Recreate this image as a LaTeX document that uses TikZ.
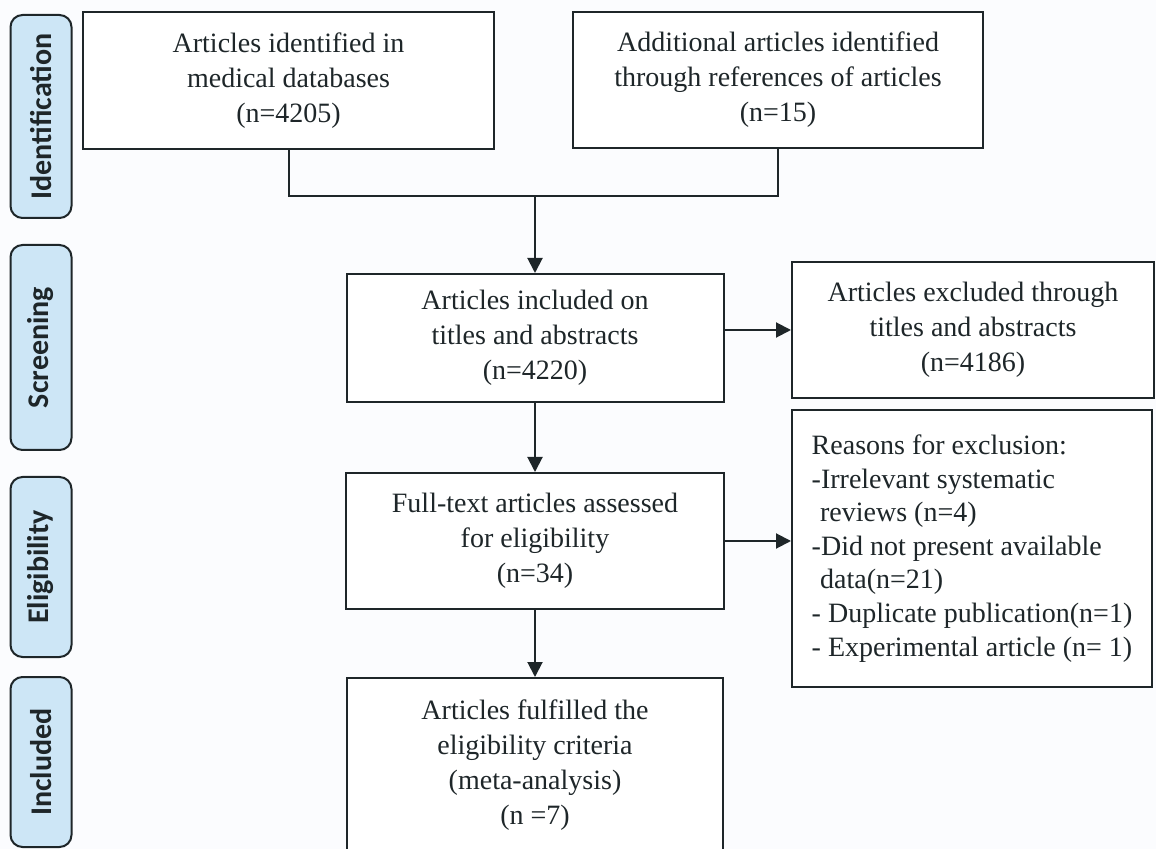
\documentclass[tikz,border=0pt]{standalone}
\usepackage{fontspec}
\setmainfont{Liberation Serif}
\newfontfamily\tagfont{Carlito}
\usepackage{xcolor}
\usepackage{tikz}
\usetikzlibrary{arrows.meta,positioning,calc}
\definecolor{paper}{HTML}{FBFCFE}
\definecolor{ink}{HTML}{1E2629}
\definecolor{tagblue}{HTML}{CDE6F6}

\begin{document}
\begin{tikzpicture}[x=0.5pt, y=-0.5pt,
  stagebox/.style={draw=ink, line width=1pt, fill=white, align=center, inner sep=4pt, font=\fontsize{14}{17.5}\selectfont},
  notebox/.style={draw=ink, line width=1pt, fill=white, align=left, inner sep=4pt, font=\fontsize{14}{16.8}\selectfont},
  phase/.style={draw=ink, line width=1pt, rounded corners=6pt, fill=tagblue, rotate=90, minimum height=30.5pt, inner sep=2pt, font=\tagfont\bfseries\fontsize{15}{18}\selectfont},
  flow/.style={draw=ink, line width=1pt},
  every path/.style={color=ink}
]
  \useasboundingbox[fill=paper] (0,0) rectangle (1156,849);

  \node[phase, minimum width=101.5pt] (tid) at (41,116.5) {Identification};
  \node[phase, minimum width=102.5pt] (tsc) at (41,347.5) {Screening};
  \node[phase, minimum width=90pt] (tel) at (41,567) {Eligibility};
  \node[phase, minimum width=85pt] (tin) at (41,762) {Included};

  \node[stagebox, minimum width=205.5pt, minimum height=68.5pt] (db) at (288.5,80.5) {Articles identified in\\medical databases\\(n=4205)};
  \node[stagebox, minimum width=205pt, minimum height=68pt] (refs) at (778,80) {Additional articles identified\\through references of articles\\(n=15)};
  \node[stagebox, minimum width=188.5pt, minimum height=64pt] (screen) at (535,338) {Articles included on\\titles and abstracts\\(n=4220)};
  \node[stagebox, minimum width=181pt, minimum height=68pt] (excl) at (973,330) {Articles excluded through\\titles and abstracts\\(n=4186)};
  \node[stagebox, minimum width=189pt, minimum height=68pt] (full) at (535,541) {Full-text articles assessed\\for eligibility\\(n=34)};
  \node[notebox, minimum width=180pt, minimum height=138.5pt] (why) at (972,548.5) {Reasons for exclusion:\\-Irrelevant systematic\\\hspace*{0.3em}reviews (n=4)\\-Did not present available\\\hspace*{0.3em}data(n=21)\\- Duplicate publication(n=1)\\- Experimental article (n= 1)};
  \node[stagebox, minimum width=188pt, minimum height=87pt] (meta) at (535,765) {Articles fulfilled the\\eligibility criteria\\(meta-analysis)\\(n =7)};

  \coordinate (join) at (535,196);
  \draw[flow] (db.south) -- (db.south |- join) -- (refs.south |- join) -- (refs.south);
  \draw[flow, -{Triangle[length=7.5pt,width=7.5pt]}] (join) -- (screen.north);
  \draw[flow, -{Triangle[length=7.5pt,width=7.5pt]}] (screen.east |- excl) -- (excl.west);
  \draw[flow, -{Triangle[length=7.5pt,width=7.5pt]}] (screen.south) -- (full.north);
  \draw[flow, -{Triangle[length=7.5pt,width=7.5pt]}] (full.east) -- (full.east -| why.west);
  \draw[flow, -{Triangle[length=7.5pt,width=7.5pt]}] (full.south) -- (meta.north);
\end{tikzpicture}
\end{document}
